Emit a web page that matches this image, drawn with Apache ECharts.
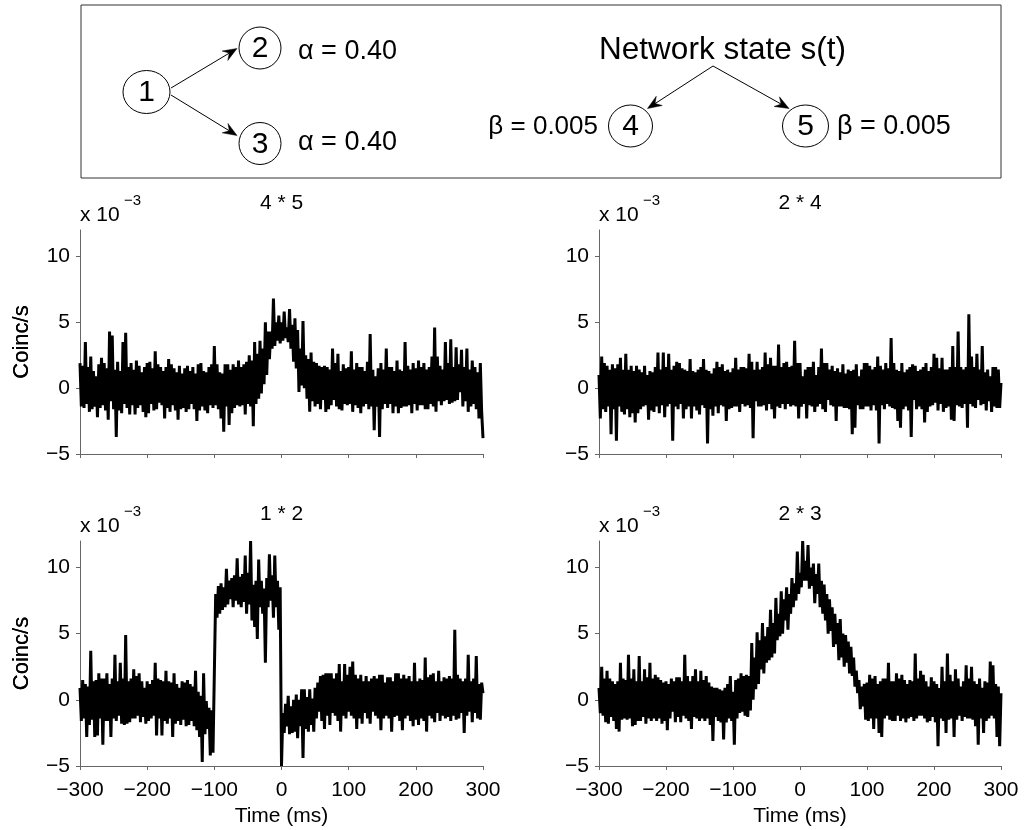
<!DOCTYPE html>
<html><head><meta charset="utf-8">
<script src="https://cdn.jsdelivr.net/npm/echarts@6/dist/echarts.min.js"></script>
<style>html,body{margin:0;padding:0;background:#fff}#c{width:1024px;height:830px}</style>
</head><body><div id="c"></div>
<script>
// ---- data ----
const lagStartMs = -300, lagEndMs = 300, lagStepMs = 2;   // bin grid of the cross-correlograms
const xTickLabels = [-300, -200, -100, 0, 100, 200, 300];
const yTickLabels = [-5, 0, 5, 10];
const panelTitles = ['4 * 5', '2 * 4', '1 * 2', '2 * 3'];

// coincidences/s (x 10^-3), one value per 2 ms lag bin from -300 to 300 (20 values = 40 ms per row)
const ccg45 = [
  1.9,-1.4,1.7,-1.5,3.5,-1.2,1.6,-1.8,2.4,-1.6,1.3,-1.4,0.9,-2.2,1.8,-1.5,2.3,-1.3,1.9,-1.7,
  1.5,-2.4,4.3,-1.0,4.0,-1.6,1.4,-3.7,2.0,-1.7,1.3,-1.9,3.5,-1.2,4.2,-1.5,1.6,-2.0,1.9,-1.3,
  1.4,-2.0,2.1,-1.5,1.7,-1.3,1.2,-1.8,1.6,-2.2,1.9,-1.9,2.0,-1.2,1.5,-1.7,2.8,-1.6,1.8,-1.1,
  1.6,-1.3,1.3,-2.3,1.6,-1.5,2.2,-1.8,1.8,-1.3,1.5,-1.7,1.2,-2.4,1.7,-1.6,1.1,-1.5,1.5,-1.8,
  1.7,-1.6,1.3,-1.2,1.6,-1.6,1.1,-2.5,1.8,-1.7,1.9,-1.4,1.3,-1.7,1.2,-1.9,1.6,-1.3,1.8,-1.5,
  3.2,-1.3,1.8,-1.6,1.2,-2.3,1.1,-3.3,1.8,-1.4,1.8,-2.8,1.4,-1.9,1.8,-1.5,1.6,-1.3,2.1,-1.4,
  1.6,-1.3,1.8,-2.0,2.0,-1.2,2.5,-1.4,2.1,-2.9,3.5,-1.2,2.6,-0.8,3.6,-0.4,3.0,0.3,5.0,1.0,
  4.3,2.2,4.3,3.0,6.8,3.2,5.0,3.6,5.5,3.4,5.0,3.6,5.8,3.8,4.6,3.5,6.0,3.0,4.8,2.0,
  5.3,1.5,4.4,-0.3,3.0,0.2,5.1,0.0,2.5,-0.8,2.2,-1.8,2.7,-1.0,2.0,-1.4,1.9,-1.2,1.7,-1.6,
  1.6,-0.9,1.7,-1.8,1.6,-1.6,1.4,-1.3,3.0,-0.9,1.9,-1.4,2.6,-1.6,1.3,-1.7,1.8,-1.2,1.5,-1.3,
  1.6,-1.2,2.8,-1.8,1.4,-1.3,1.9,-1.5,1.6,-1.9,1.6,-1.4,1.3,-1.2,2.0,-1.6,4.1,-1.4,1.4,-3.2,
  0.9,-1.4,1.5,-3.7,1.9,-1.6,1.4,-1.2,3.0,-1.5,1.6,-1.2,1.6,-1.9,1.3,-1.4,2.1,-1.9,1.4,-1.5,
  1.3,-1.4,3.5,-1.4,1.7,-1.3,1.4,-1.9,1.9,-1.2,1.5,-1.7,2.1,-1.3,1.6,-1.3,1.9,-1.6,1.4,-1.6,
  1.6,-1.2,2.4,-1.4,4.6,-1.8,2.4,-1.0,1.7,-1.3,1.4,-1.0,3.5,-0.9,1.9,-1.2,3.7,-1.1,1.6,-1.0,
  3.1,-0.9,1.8,-0.3,2.9,-1.4,1.6,-1.0,3.0,-1.8,1.4,-1.4,2.1,-1.2,1.6,-1.6,1.2,-2.3,1.9,-1.8,
  -3.8
];
const ccg24 = [
  1.0,-2.3,2.4,-1.6,1.9,-1.8,1.7,-1.4,1.4,-3.5,1.8,-1.6,1.5,-4.0,1.8,-1.4,2.3,-1.8,1.4,-2.0,
  2.6,-1.6,1.4,-2.2,1.7,-1.9,1.3,-2.6,1.7,-1.9,1.4,-1.6,1.2,-1.4,1.7,-1.3,1.0,-2.4,1.3,-1.7,
  1.2,-1.8,1.6,-1.4,2.7,-1.9,1.4,-1.3,2.7,-2.2,1.6,-1.4,2.6,-1.2,1.4,-4.0,1.7,-1.4,2.0,-1.6,
  1.9,-1.2,1.5,-2.3,1.4,-1.6,1.3,-1.4,2.2,-2.3,1.3,-1.4,1.2,-1.7,1.4,-2.0,1.6,-1.3,2.2,-1.5,
  1.4,-4.2,1.3,-1.6,1.1,-2.1,1.5,-1.4,2.0,-1.9,1.6,-1.3,1.8,-1.4,1.3,-2.5,1.4,-1.6,1.2,-1.5,
  1.5,-1.4,2.3,-1.4,1.4,-1.8,1.6,-1.2,1.6,-1.4,1.5,-1.3,2.6,-1.5,2.0,-3.8,1.4,-1.0,2.0,-1.4,
  1.4,-1.4,1.6,-1.3,2.7,-1.7,1.8,-1.2,2.3,-1.6,1.7,-2.3,1.7,-1.4,3.3,-1.5,1.6,-1.2,1.9,-1.6,
  2.0,-1.2,1.6,-1.4,1.7,-1.3,3.6,-1.4,1.9,-2.3,1.9,-1.4,0.9,-1.2,1.4,-2.3,1.6,-1.3,1.6,-1.4,
  2.0,-1.8,1.0,-1.4,1.6,-1.2,3.0,-1.6,1.9,-1.8,1.9,-0.9,1.4,-1.3,1.7,-1.4,1.3,-2.5,1.5,-1.4,
  1.2,-1.4,1.8,-1.5,1.1,-1.5,1.4,-1.6,1.3,-3.5,1.4,-3.0,1.8,-1.3,0.9,-1.6,1.4,-1.6,1.9,-1.4,
  1.9,-1.4,1.7,-1.7,1.4,-1.3,1.6,-1.7,2.4,-4.2,1.7,-1.3,1.4,-1.6,1.9,-1.2,1.5,-1.4,3.8,-1.5,
  1.9,-1.6,1.4,-2.5,1.3,-3.0,1.9,-1.6,1.2,-1.4,1.4,-1.7,1.6,-3.7,1.8,-0.9,1.7,-1.6,1.3,-1.4,
  1.4,-1.6,1.6,-2.6,1.9,-1.8,1.3,-1.4,1.6,-1.3,2.6,-1.1,2.3,-1.7,1.5,-1.2,2.3,-1.8,1.4,-1.5,
  1.4,-1.4,1.6,-2.4,3.2,-2.5,1.6,-1.3,4.3,-1.4,1.6,-1.5,1.4,-1.2,1.6,-3.0,5.6,-1.2,2.4,-1.4,
  1.6,-1.5,2.6,-0.9,1.4,-1.3,3.2,-1.2,1.2,-1.7,1.4,-1.0,0.9,-1.8,1.6,-1.4,1.6,-1.5,1.4,-1.5,
  0.4
];
const ccg12 = [
  0.9,-1.6,1.5,-1.4,1.2,-2.8,1.0,-1.9,3.7,-1.5,1.4,-2.8,1.5,-2.7,2.0,-1.4,1.6,-3.4,1.6,-1.6,
  2.0,-1.6,1.2,-2.8,1.6,-1.4,3.4,-1.6,1.4,-1.2,2.8,-1.8,1.6,-1.9,4.9,-1.8,1.4,-1.7,1.6,-1.4,
  2.3,-1.4,1.8,-1.2,2.0,-1.7,1.4,-1.3,0.9,-1.8,1.4,-1.6,1.2,-1.4,1.5,-1.2,2.8,-2.7,1.6,-1.4,
  1.5,-2.7,1.4,-1.6,2.2,-1.8,1.4,-1.4,1.3,-2.8,2.0,-1.8,1.2,-1.6,0.9,-1.9,1.4,-1.5,1.3,-2.0,
  1.5,-1.9,1.2,-1.6,1.0,-2.0,2.2,-2.3,0.6,-2.8,0.3,-4.7,2.0,-2.6,-0.1,-2.2,-0.6,-4.2,-0.8,-4.0,
  -4.1,8.0,6.2,8.6,6.5,8.8,6.8,8.5,7.0,9.9,7.2,9.0,7.6,9.2,7.0,9.4,7.5,10.7,7.2,9.3,
  7.0,9.5,7.4,10.9,6.5,9.6,7.2,12.0,6.0,8.7,5.5,9.0,4.6,10.6,7.0,9.0,6.5,8.4,2.8,9.2,
  7.0,11.0,7.5,9.4,6.2,10.9,7.0,9.0,5.3,8.5,-5.0,-1.0,-2.5,-0.3,-2.0,0.3,-2.6,-0.5,-2.5,0.0,
  -2.4,0.4,-2.9,0.0,-2.0,0.8,-4.4,0.8,-2.2,0.2,-2.4,0.8,-1.9,0.1,-2.4,0.9,-1.4,1.3,-0.9,1.8,
  -1.6,1.9,-2.2,2.0,-1.2,2.0,-1.9,2.0,-1.0,1.6,-1.2,2.0,-1.6,2.7,-2.4,1.4,-1.2,2.7,-1.4,1.9,
  -0.9,2.5,-1.2,2.9,-1.4,1.9,-2.2,1.6,-1.4,1.9,-1.8,1.4,-1.0,1.8,-1.4,1.4,-1.8,1.6,-0.9,1.8,
  -1.2,1.6,-1.4,1.9,-2.3,1.9,-1.4,1.3,-1.2,1.7,-1.4,1.7,-2.4,1.4,-1.3,2.0,-1.2,2.0,-1.6,1.6,
  -2.3,1.9,-1.4,1.6,-1.2,1.8,-1.6,1.4,-2.0,2.8,-1.5,1.4,-1.9,1.6,-1.4,1.5,-1.6,3.2,-2.4,1.7,
  -1.2,1.9,-1.4,2.0,-1.7,1.4,-1.0,2.2,-1.6,1.4,-1.2,1.7,-1.4,1.6,-1.3,1.8,-1.6,1.6,-1.2,5.3,
  -1.5,1.9,-1.4,1.6,-1.0,1.4,-2.5,1.6,-1.2,3.4,-0.9,1.4,-1.7,1.6,-1.0,3.3,-1.4,1.2,-1.5,1.3,
  0.5
];
const ccg23 = [
  0.9,-1.0,2.5,-1.2,1.6,-1.7,2.2,-1.8,1.6,-1.3,1.4,-1.6,1.2,-2.2,1.4,-2.4,2.8,-1.5,1.6,-1.4,
  1.5,-1.5,3.4,-1.4,1.6,-2.0,2.3,-1.9,1.4,-1.6,3.3,-1.6,1.4,-1.3,2.3,-1.8,1.7,-1.4,2.8,-1.6,
  1.6,-1.4,1.9,-1.6,1.7,-1.4,1.5,-1.8,1.3,-1.6,1.4,-2.3,1.2,-1.4,1.6,-0.9,1.4,-1.7,1.7,-1.3,
  1.7,-1.7,1.4,-1.2,3.4,-1.4,1.8,-1.6,1.4,-2.2,1.8,-1.3,2.3,-1.4,1.4,-1.6,2.2,-1.4,1.5,-1.6,
  1.8,-1.4,1.3,-1.9,1.0,-3.1,0.9,-1.3,0.9,-1.6,0.8,-1.7,0.7,-3.0,0.9,-1.7,1.2,-1.4,1.8,-1.6,
  0.6,-3.4,1.5,-1.4,1.6,-1.0,2.0,-0.9,1.8,-1.2,1.9,-1.3,1.8,-0.8,4.3,0.0,3.2,0.8,5.1,1.2,
  4.5,2.3,5.8,2.0,4.8,2.8,5.5,3.0,6.8,3.2,5.8,3.5,7.7,4.5,6.5,4.8,8.2,5.0,7.6,6.0,
  8.5,5.3,8.0,6.5,9.2,7.0,8.8,7.5,11.2,8.0,9.6,8.5,12.0,9.0,10.5,9.0,11.7,8.4,10.0,8.6,
  10.3,7.3,9.5,8.0,10.3,7.0,9.0,6.5,8.7,6.0,8.0,5.0,7.6,5.2,7.0,4.0,6.5,4.2,5.8,3.0,
  6.1,3.2,5.0,2.5,4.9,2.8,4.4,2.0,4.0,1.8,3.2,1.0,2.2,0.5,1.5,-0.7,1.0,-0.5,1.2,-1.5,
  1.3,-1.6,1.9,-1.4,1.6,-2.2,1.8,-1.4,1.2,-2.5,1.4,-2.8,1.6,-1.4,1.6,-1.2,2.8,-1.5,1.4,-1.6,
  1.4,-1.6,2.0,-1.2,1.6,-1.6,1.9,-1.4,1.5,-1.7,1.2,-1.4,1.5,-1.3,1.4,-1.6,3.5,-1.4,1.6,-1.2,
  2.2,-1.2,1.9,-1.4,1.4,-1.7,1.0,-1.6,1.7,-1.3,1.4,-1.7,1.2,-3.5,0.9,-1.4,2.5,-1.6,1.4,-2.5,
  3.5,-1.5,1.9,-1.4,1.4,-2.8,2.3,-1.5,1.6,-1.2,1.0,-1.6,1.4,-1.3,2.6,-1.4,1.6,-1.4,2.5,-1.5,
  1.4,-2.0,1.2,-3.4,1.6,-1.4,0.9,-2.5,1.4,-1.6,1.3,-1.4,2.9,-1.2,2.6,-1.4,1.2,-2.8,1.0,-3.5,
  0.5
];
const panelSeries = [ccg45, ccg24, ccg12, ccg23];

// ---- layout / style ----
const FONT = "'Liberation Sans', Arial, Helvetica, sans-serif";
const lags = [];
for (let t = lagStartMs; t <= lagEndMs; t += lagStepMs) lags.push(t);
const minus = v => String(v).replace('-', '\u2212');

const grids = [
  {left: 80,  top: 230, width: 403, height: 224},
  {left: 599, top: 230, width: 402, height: 224},
  {left: 80,  top: 541, width: 403, height: 225},
  {left: 599, top: 541, width: 402, height: 225}
];

const axisCol = '#666';
const xAxes = grids.map((g, i) => ({
  gridIndex: i, type: 'value', min: -300, max: 300, interval: 100,
  axisLine: {show: true, onZero: false, lineStyle: {color: axisCol, width: 1}},
  axisTick: {show: true, inside: false, length: 4, lineStyle: {color: axisCol}},
  axisLabel: {show: i >= 2, margin: 14, fontSize: 21, color: '#000', fontFamily: FONT,
              customValues: xTickLabels, formatter: minus},
  splitLine: {show: false}
}));
const yAxes = grids.map((g, i) => ({
  gridIndex: i, type: 'value', min: -5, max: 12, interval: 5,
  axisLine: {show: true, onZero: false, lineStyle: {color: axisCol, width: 1}},
  axisTick: {show: true, inside: false, length: 4, lineStyle: {color: axisCol}, customValues: yTickLabels},
  axisLabel: {show: true, margin: 10, fontSize: 21, color: '#000', fontFamily: FONT,
              customValues: yTickLabels, formatter: minus},
  splitLine: {show: false}
}));
const series = panelSeries.map((vals, i) => ({
  type: 'line', xAxisIndex: i, yAxisIndex: i,
  data: lags.map((t, k) => [t, vals[k]]),
  symbol: 'none', showSymbol: false, silent: true, clip: true,
  lineStyle: {color: '#000', width: 3}
}));

// ---- graphic: diagram and panel texts ----
const G = [];
function txt(x, y, s, size, align, vAlign, rot) {
  G.push({type: 'text', x: x, y: y, rotation: rot || 0, silent: true,
    style: {text: s, fill: '#000', font: size + 'px ' + FONT, fontSize: size, fontFamily: FONT,
            align: align, textAlign: align, verticalAlign: vAlign, textVerticalAlign: vAlign}});
}
function node(cx, cy, rx, ry, label) {
  G.push({type: 'ellipse', silent: true, shape: {cx: cx, cy: cy, rx: rx, ry: ry},
          style: {fill: 'none', stroke: '#000', lineWidth: 1}});
  txt(cx, cy + 1, label, 30, 'center', 'middle');
}
function arrow(x1, y1, x2, y2) {
  const dx = x2 - x1, dy = y2 - y1, L = Math.hypot(dx, dy);
  const ux = dx / L, uy = dy / L, nx = -uy, ny = ux;
  const len = 14, w = 5.5, notch = 9;
  const bx = x2 - ux * len, by = y2 - uy * len;
  const mx = x2 - ux * notch, my = y2 - uy * notch;
  G.push({type: 'line', silent: true, shape: {x1: x1, y1: y1, x2: mx, y2: my},
          style: {stroke: '#000', lineWidth: 1}});
  G.push({type: 'polygon', silent: true,
          shape: {points: [[x2, y2], [bx + nx * w, by + ny * w], [mx, my], [bx - nx * w, by - ny * w]]},
          style: {fill: '#000', stroke: '#000', lineWidth: 0.5}});
}
// frame
G.push({type: 'rect', silent: true, shape: {x: 81, y: 5, width: 920, height: 173},
        style: {fill: 'none', stroke: '#333', lineWidth: 1}});
node(146.5, 92, 23.5, 21.5, '1');
node(260, 48, 21, 21, '2');
node(260, 143.5, 21, 21, '3');
node(630.5, 126, 22, 21, '4');
node(805.5, 126, 23, 21, '5');
arrow(171, 88, 237, 48.5);
arrow(171, 95, 237, 135.5);
arrow(713, 66, 647.5, 108.5);
arrow(713, 66, 789, 108.5);
txt(298, 52, '\u03b1 = 0.40', 27, 'left', 'middle');
txt(298, 143, '\u03b1 = 0.40', 27, 'left', 'middle');
txt(598, 127, '\u03b2 = 0.005', 26, 'right', 'middle');
txt(837, 127, '\u03b2 = 0.005', 27, 'left', 'middle');
txt(722.5, 50, 'Network state s(t)', 31.5, 'center', 'middle');

grids.forEach((g, i) => {
  const cx = g.left + g.width / 2;
  txt(cx, g.top - 26.5, panelTitles[i], 21, 'center', 'middle');
  txt(g.left, g.top - 15, 'x 10', 21, 'left', 'middle');
  txt(g.left + 44, g.top - 29, '\u22123', 15, 'left', 'middle');
  txt(22, g.top + g.height / 2, 'Coinc/s', 22, 'center', 'middle', Math.PI / 2);
  if (i >= 2) txt(cx, 816, 'Time (ms)', 21, 'center', 'middle');
});

const chart = echarts.init(document.getElementById('c'), null, {renderer: 'canvas'});
chart.setOption({
  animation: false,
  backgroundColor: '#fff',
  grid: grids.map(g => Object.assign({outerBoundsMode: 'none', containLabel: false}, g)),
  xAxis: xAxes, yAxis: yAxes, series: series,
  graphic: {elements: G}
});
</script></body></html>
